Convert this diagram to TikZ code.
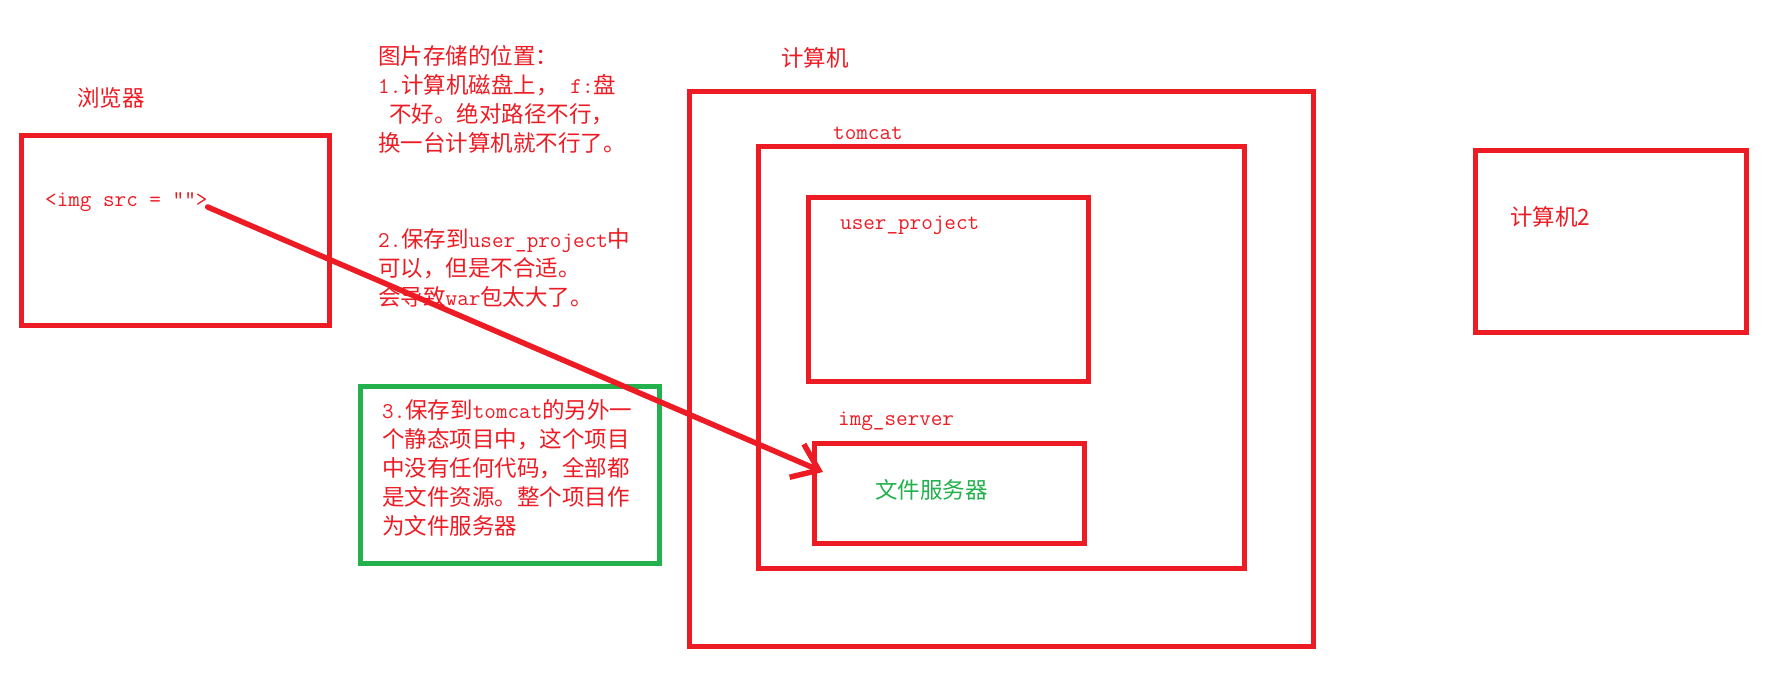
\documentclass[tikz,border=0pt]{standalone}
\usepackage{fontspec}
\setmainfont{Noto Sans CJK SC}
\usepackage{xcolor}
\usetikzlibrary{arrows.meta}

\definecolor{paintred}{HTML}{ED1C24}
\definecolor{paintgreen}{HTML}{22B14C}
\newcommand{\asc}[1]{{\ttfamily #1}}

\begin{document}
\begin{tikzpicture}[x=1pt,y=-1pt,
  font=\fontsize{22.5}{29}\selectfont, text=paintred,
  box/.style={draw=paintred,line width=5pt,inner sep=0pt},
  lbl/.style={inner sep=0pt},
  note/.style={inner sep=0pt,align=left,anchor=north west},
  pointer/.style={draw=paintred,line width=5.5pt,line cap=round,-{Straight Barb[length=24pt,width=36pt]}}]
\path[fill=white] (0,0) rectangle (1775,684);

% boxes
\node[box,minimum width=308.5pt,minimum height=190pt] (browser) at (175.25,230.5) {};
\node[box,minimum width=623.8pt,minimum height=554.3pt] (computer) at (1001.4,368.85) {};
\node[box,minimum width=485.8pt,minimum height=421.8pt] (tomcat) at (1001.4,357.6) {};
\node[box,minimum width=280.3pt,minimum height=183.3pt] (userproj) at (948.15,289.65) {};
\node[box,minimum width=269.5pt,minimum height=99.3pt] (imgsrv) at (949.25,493.35) {};
\node[box,minimum width=271pt,minimum height=182pt] (computertwo) at (1611,241.5) {};
\node[box,draw=paintgreen,minimum width=299.3pt,minimum height=176pt] (greenbox) at (509.65,475) {};

% labels
\node[lbl,anchor=west] (browserlbl) at (77,98) {浏览器};
\node[lbl,anchor=base west] (imgtag) at (45,207) {\asc{<img src = ””>}};
\node[lbl,anchor=west] (computerlbl) at (781,58) {计算机};
\node[lbl,anchor=base west] (tomcatlbl) at (833,140) {\asc{tomcat}};
\node[lbl,anchor=base west] (userprojlbl) at (840,230) {\asc{user\_project}};
\node[lbl,anchor=base west] (imgsrvlbl) at (838,425) {\asc{img\_server}};
\node[lbl,anchor=west,text=paintgreen] (filesrv) at (875,490) {文件服务器};
\node[lbl,anchor=west] (computertwolbl) at (1510,217) {计算机2};

% notes
\node[note] (noteone) at (378,45) {图片存储的位置：\\\asc{1.}计算机磁盘上，\asc{~f:}盘\\\hspace*{11pt}不好。绝对路径不行，\\换一台计算机就不行了。};
\node[note] (notetwo) at (378,228) {\asc{2.}保存到\asc{user\_project}中\\可以，但是不合适。\\会导致\asc{war}包太大了。};
\node[note] (notethree) at (382,399) {\asc{3.}保存到\asc{tomcat}的另外一\\个静态项目中，这个项目\\中没有任何代码，全部都\\是文件资源。整个项目作\\为文件服务器};

% arrow
\coordinate (hit) at (823,472);
\draw[pointer] (imgtag.base east) -- (hit);
\end{tikzpicture}
\end{document}
